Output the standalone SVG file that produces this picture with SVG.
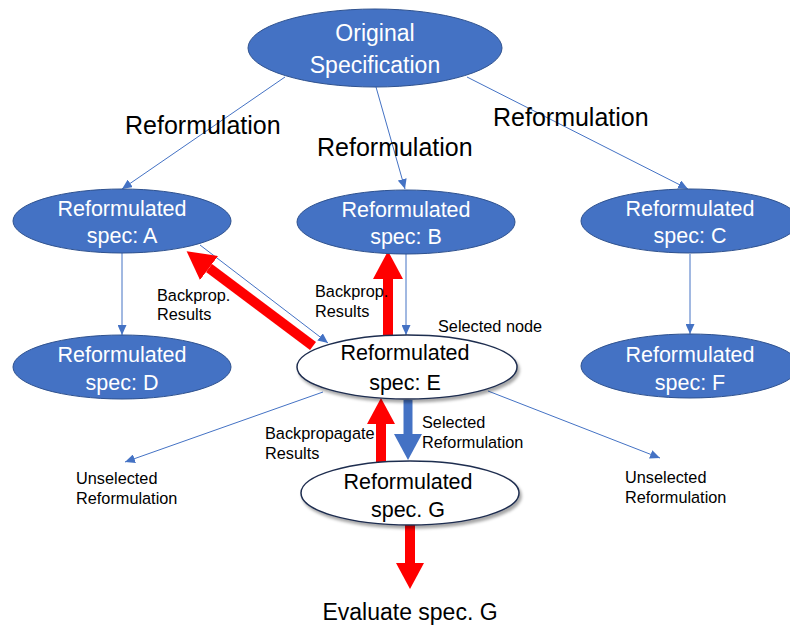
<svg xmlns="http://www.w3.org/2000/svg" width="790" height="628" viewBox="0 0 790 628">
<style>
.blue{fill:#4472C4;stroke:#2F528F;stroke-width:1}
.white{fill:#fff;stroke:#1F2D4F;stroke-width:1.5}
.nt{font-family:"Liberation Sans",Arial,sans-serif;font-size:21.5px;fill:#fff;text-anchor:middle}
.nb{font-family:"Liberation Sans",Arial,sans-serif;font-size:21.5px;fill:#000;text-anchor:middle}
.lbl{font-family:"Liberation Sans",Arial,sans-serif;font-size:25px;fill:#000}
.sm{font-family:"Liberation Sans",Arial,sans-serif;font-size:16.3px;fill:#000}
.thin{stroke:#4472C4;stroke-width:1;fill:none}
.red{stroke:#FF0000;stroke-width:10;fill:none}
.bl{stroke:#4472C4;stroke-width:9;fill:none}
</style>
<defs>
<marker id="ah" markerUnits="userSpaceOnUse" markerWidth="10" markerHeight="9" viewBox="0 -4.5 10 9" refX="10" refY="0" orient="auto"><path d="M0,-4.5 L10,0 L0,4.5 z" fill="#4472C4"/></marker>
<marker id="rh" markerUnits="userSpaceOnUse" markerWidth="28" markerHeight="30" viewBox="0 -15 28 30" refX="0" refY="0" orient="auto"><path d="M0,-15 L28,0 L0,15 z" fill="#FF0000"/></marker>
<marker id="rh2" markerUnits="userSpaceOnUse" markerWidth="26" markerHeight="28" viewBox="0 -14 26 28" refX="0" refY="0" orient="auto"><path d="M0,-14 L26,0 L0,14 z" fill="#FF0000"/></marker>
<marker id="bh" markerUnits="userSpaceOnUse" markerWidth="26" markerHeight="28" viewBox="0 -14 26 28" refX="0" refY="0" orient="auto"><path d="M0,-14 L26,0 L0,14 z" fill="#4472C4"/></marker>
<filter id="sh" x="-10%" y="-20%" width="125%" height="150%"><feDropShadow dx="2" dy="3" stdDeviation="1.5" flood-color="#000" flood-opacity="0.35"/></filter>
</defs>
<g id="connectors">
<line class="thin" x1="285" y1="77" x2="122" y2="189" marker-end="url(#ah)"/>
<line class="thin" x1="376" y1="87" x2="405" y2="189" marker-end="url(#ah)"/>
<line class="thin" x1="467" y1="77" x2="688" y2="189" marker-end="url(#ah)"/>
<line class="thin" x1="122" y1="253" x2="122" y2="335" marker-end="url(#ah)"/>
<line class="thin" x1="690" y1="254" x2="690" y2="334" marker-end="url(#ah)"/>
<line class="thin" x1="406" y1="254" x2="406" y2="335" marker-end="url(#ah)"/>
<line class="thin" x1="200" y1="245" x2="328" y2="343" marker-end="url(#ah)"/>
<line class="thin" x1="323" y1="392" x2="125" y2="462" marker-end="url(#ah)"/>
<line class="thin" x1="488" y1="391" x2="660" y2="458" marker-end="url(#ah)"/>
<line class="red" x1="313" y1="346" x2="209" y2="268" marker-end="url(#rh)"/>
<line class="red" x1="388" y1="337" x2="388" y2="279" marker-end="url(#rh)"/>
<line class="red" x1="381" y1="462" x2="381" y2="424" marker-end="url(#rh2)"/>
<line class="red" x1="410" y1="525" x2="410" y2="563" marker-end="url(#rh2)"/>
<line class="bl" x1="408" y1="400" x2="408" y2="434" marker-end="url(#bh)"/>
</g>
<g id="node-original"><ellipse class="blue" cx="375" cy="48" rx="127" ry="39"/><text class="nt" style="font-size:23px" x="375" y="41">Original</text><text class="nt" style="font-size:23px" x="375" y="73">Specification</text></g>
<g id="node-A"><ellipse class="blue" cx="122" cy="221" rx="109" ry="32"/><text class="nt" x="122" y="216">Reformulated</text><text class="nt" x="122" y="243">spec: A</text></g>
<g id="node-B"><ellipse class="blue" cx="406" cy="222" rx="109" ry="32"/><text class="nt" x="406" y="217">Reformulated</text><text class="nt" x="406" y="244">spec: B</text></g>
<g id="node-C"><ellipse class="blue" cx="690" cy="221" rx="109" ry="32"/><text class="nt" x="690" y="216">Reformulated</text><text class="nt" x="690" y="243">spec: C</text></g>
<g id="node-D"><ellipse class="blue" cx="122" cy="367" rx="109" ry="32"/><text class="nt" x="122" y="362">Reformulated</text><text class="nt" x="122" y="390">spec: D</text></g>
<g id="node-F"><ellipse class="blue" cx="690" cy="366" rx="109" ry="32"/><text class="nt" x="690" y="362">Reformulated</text><text class="nt" x="690" y="390">spec: F</text></g>
<g id="node-E"><ellipse class="white" filter="url(#sh)" cx="407" cy="367" rx="110" ry="32"/><text class="nb" x="405" y="360">Reformulated</text><text class="nb" x="405" y="390">spec: E</text></g>
<g id="node-G"><ellipse class="white" filter="url(#sh)" cx="410" cy="493" rx="109" ry="32"/><text class="nb" x="408" y="489">Reformulated</text><text class="nb" x="408" y="517">spec. G</text></g>
<g id="labels">
<text class="lbl" x="125" y="134">Reformulation</text>
<text class="lbl" x="317" y="156">Reformulation</text>
<text class="lbl" x="493" y="126">Reformulation</text>
<text class="sm" x="157" y="301">Backprop.</text><text class="sm" x="157" y="320">Results</text>
<text class="sm" x="315" y="297">Backprop.</text><text class="sm" x="315" y="317">Results</text>
<text class="sm" x="438" y="332">Selected node</text>
<text class="sm" x="422" y="428">Selected</text><text class="sm" x="422" y="448">Reformulation</text>
<text class="sm" x="265" y="439">Backpropagate</text><text class="sm" x="265" y="459">Results</text>
<text class="sm" x="76" y="484">Unselected</text><text class="sm" x="76" y="504">Reformulation</text>
<text class="sm" x="625" y="483">Unselected</text><text class="sm" x="625" y="503">Reformulation</text>
<text class="lbl" style="font-size:23px" x="410" y="620" text-anchor="middle">Evaluate spec. G</text>
</g>
</svg>
